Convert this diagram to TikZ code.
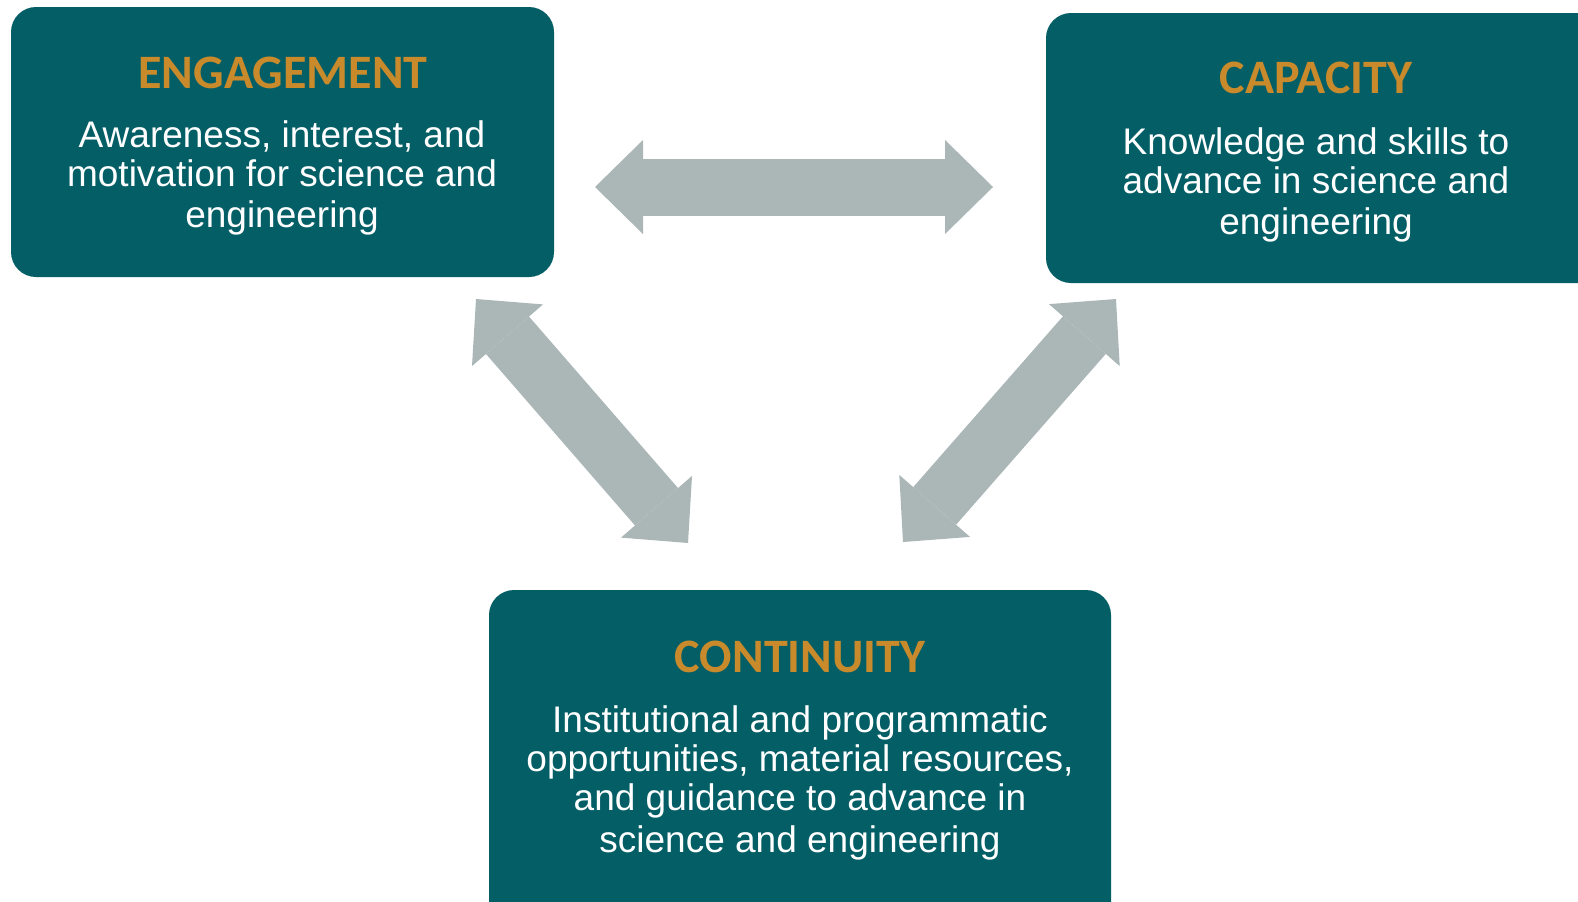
\documentclass[tikz,border=0pt]{standalone}
\usepackage{fontspec}
\setmainfont{Liberation Sans}
\newfontfamily\titlefont{Carlito}
\usetikzlibrary{arrows.meta}
\definecolor{boxteal}{HTML}{045E66}
\definecolor{titleorange}{HTML}{C98A2B}
\definecolor{arrowgrey}{HTML}{ABB6B7}
\tikzset{
  boxstyle/.style={draw=none, fill=boxteal, rounded corners=12.5pt, inner sep=0pt},
  titlestyle/.style={inner sep=0pt, text=titleorange, font=\titlefont\bfseries\fontsize{24pt}{28pt}\selectfont},
  bodystyle/.style={inner sep=0pt, text=white, align=center, font=\fontsize{18.5pt}{19.5pt}\selectfont},
  fatarrow/.style={draw=arrowgrey, line width=28.5pt,
    {Triangle[length=24pt,width=47pt,line width=0pt,fill=arrowgrey]}-{Triangle[length=24pt,width=47pt,line width=0pt,fill=arrowgrey]}}
}
\begin{document}
\begin{tikzpicture}[x=0.5pt,y=-0.5pt]
\useasboundingbox (0,0) rectangle (1578,901);
\clip (0,0) rectangle (1578,901);
\fill[white] (0,0) rectangle (1578,901);

% boxes
\node[boxstyle, minimum width=271.5pt, minimum height=135pt] (eng) at (282.5,142) {};
\node[boxstyle, minimum width=282pt, minimum height=135pt] (cap) at (1328,148) {};
\node[boxstyle, minimum width=311pt, minimum height=170pt] (con) at (800,760) {};

% titles
\node[titlestyle] (engT) at (283,72.5) {ENGAGEMENT};
\node[titlestyle] (capT) at (1316,78) {CAPACITY};
\node[titlestyle] (conT) at (800,657) {CONTINUITY};

% bodies
\node[bodystyle] (engB) at (282,178) {Awareness, interest, and\\motivation for science and\\[1.25pt]engineering};
\node[bodystyle] (capB) at (1316,185) {Knowledge and skills to\\advance in science and\\[1.25pt]engineering};
\node[bodystyle] (conB) at (800,783) {Institutional and programmatic\\opportunities, material resources,\\and guidance to advance in\\[1.25pt]science and engineering};

% arrow end points
\coordinate (hL) at (595,187);
\coordinate (hR) at (993,187);
\coordinate (lT) at (476,299);
\coordinate (lB) at (688,543);
\coordinate (rT) at (1116,299);
\coordinate (rB) at (903,542);

\draw[fatarrow] (hL) -- (hR);
\draw[fatarrow] (lT) -- (lB);
\draw[fatarrow] (rT) -- (rB);
\end{tikzpicture}
\end{document}
